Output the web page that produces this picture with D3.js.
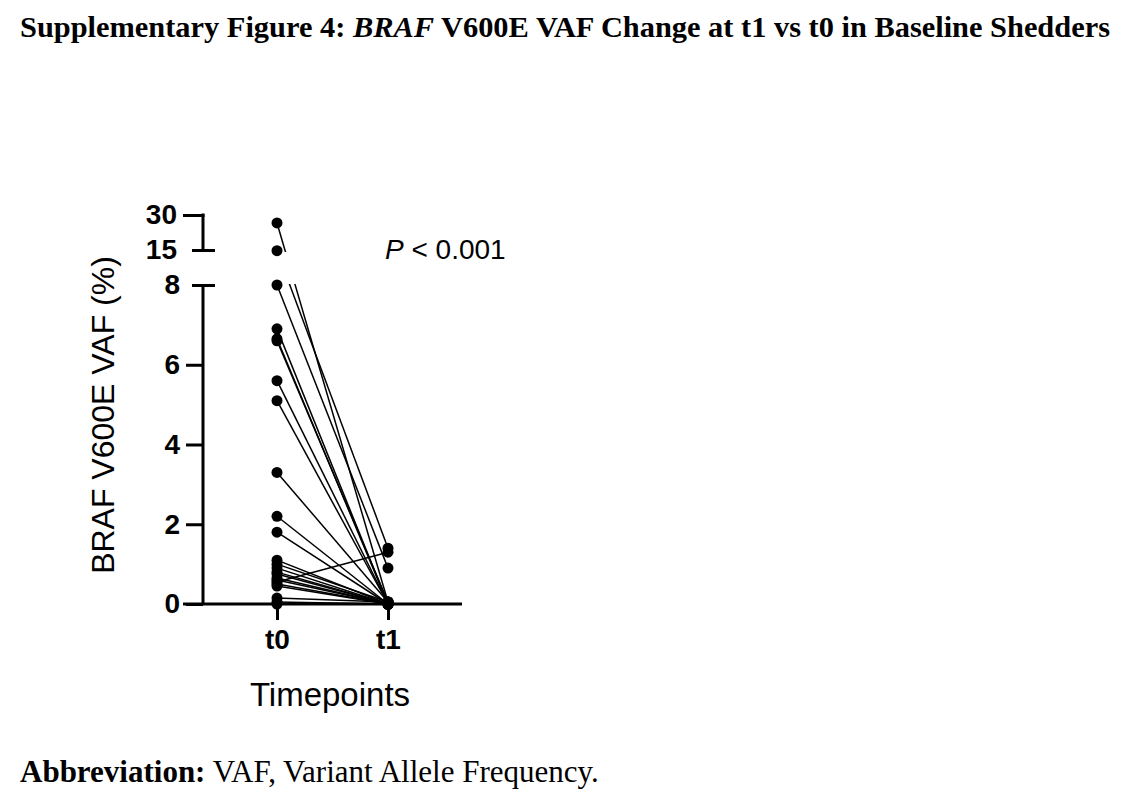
<!DOCTYPE html>
<html>
<head>
<meta charset="utf-8">
<script src="https://cdn.jsdelivr.net/npm/d3@7"></script>
<style>
  body { margin: 0; background: #fff; }
  svg { display: block; }
</style>
</head>
<body>
<svg id="chart"></svg>
<script>
// paired VAF values (%) per patient, t0 -> t1
const timepoints = ["t0", "t1"];
const vafT0 = [26.6, 14.7, 8.0, 6.9, 6.65, 6.6, 5.6, 5.1, 3.3, 2.2, 1.8,
               1.1, 1.0, 0.9, 0.8, 0.75, 0.65, 0.6, 0.55, 0.5, 0.45, 0.15, 0.05, 0.0];
const vafT1 = [0.05, 1.4, 0.9, 0.0, 0.0, 0.05, 0.0, 0.0, 0.05, 0.0, 0.0,
               0.0, 0.05, 0.0, 0.0, 0.0, 0.0, 0.0, 1.3, 0.0, 0.0, 0.05, 0.0, 0.0];
const lowTicks = [0, 2, 4, 6, 8];
const highTicks = [15, 30];

const W = 1121, H = 797;
const svg = d3.select("#chart").attr("width", W).attr("height", H);

// broken y axis: two segments
const yLow = d3.scaleLinear().domain([0, 8]).range([604, 285]);
const yHigh = d3.scaleLinear().domain([15, 30]).range([250, 215]);
const y = v => v <= 8 ? yLow(v) : yHigh(v);

const x = d3.scalePoint().domain(timepoints).range([277, 388]);
const axisX = 203;

const data = vafT0.map((v, i) => ({ t0: v, t1: vafT1[i] }));

// title
const title = svg.append("text")
  .attr("x", 20).attr("y", 37)
  .style("font-family", "'Liberation Serif', 'Times New Roman', serif")
  .style("font-size", "30.4px").style("font-weight", "bold");
title.append("tspan").text("Supplementary Figure 4: ");
title.append("tspan").style("font-style", "italic").text("BRAF");
title.append("tspan").text(" V600E VAF Change at t1 vs t0 in Baseline Shedders");

// footer
const foot = svg.append("text")
  .attr("x", 20).attr("y", 782)
  .style("font-family", "'Liberation Serif', 'Times New Roman', serif")
  .style("font-size", "31px");
foot.append("tspan").style("font-weight", "bold").text("Abbreviation:");
foot.append("tspan").text(" VAF, Variant Allele Frequency.");

// clip regions for each axis segment
const defs = svg.append("defs");
defs.append("clipPath").attr("id", "clipHigh")
  .append("rect").attr("x", 0).attr("y", 0).attr("width", W).attr("height", yHigh(15) + 2);
defs.append("clipPath").attr("id", "clipLow")
  .append("rect").attr("x", 0).attr("y", yLow(8) - 1).attr("width", W).attr("height", H);

const chart = svg.append("g");
const font = "'Liberation Sans', Arial, sans-serif";

// paired lines
["clipHigh", "clipLow"].forEach(id => {
  chart.append("g").attr("clip-path", `url(#${id})`)
    .selectAll("line").data(data).join("line")
    .attr("x1", x("t0")).attr("y1", d => y(d.t0))
    .attr("x2", x("t1")).attr("y2", d => y(d.t1))
    .attr("stroke", "#000").attr("stroke-width", 1.5);
});

// points
const pts = [];
data.forEach(d => { pts.push({ t: "t0", v: d.t0 }); pts.push({ t: "t1", v: d.t1 }); });
chart.append("g").selectAll("circle").data(pts).join("circle")
  .attr("cx", d => x(d.t)).attr("cy", d => y(d.v))
  .attr("r", 5.5).attr("fill", "#000");

// y axis, lower segment
const gLow = chart.append("g").attr("transform", `translate(${axisX},0)`)
  .call(d3.axisLeft(yLow).tickValues(lowTicks).tickSize(17).tickPadding(6));
// y axis, upper segment
const gHigh = chart.append("g").attr("transform", `translate(${axisX},0)`)
  .call(d3.axisLeft(yHigh).tickValues(highTicks).tickSize(20).tickPadding(6));

[gLow, gHigh].forEach(g => {
  g.select(".domain").remove();
  g.selectAll(".tick line").attr("stroke-width", 3);
  g.selectAll(".tick text")
    .style("font-family", font).style("font-size", "28px").style("font-weight", "bold")
    .attr("fill", "#000");
});
// axis lines
chart.append("line").attr("x1", axisX).attr("x2", axisX)
  .attr("y1", yLow(0)).attr("y2", yLow(8)).attr("stroke", "#000").attr("stroke-width", 3);
chart.append("line").attr("x1", axisX).attr("x2", axisX)
  .attr("y1", yHigh(15)).attr("y2", yHigh(30) - 1.5).attr("stroke", "#000").attr("stroke-width", 3);
// break caps (centered on axis)
gLow.select(".tick:last-of-type line").attr("x1", 12).attr("x2", -11);
gHigh.select(".tick:first-of-type line").attr("x1", 12).attr("x2", -11);
gHigh.select(".tick:last-of-type line").attr("x1", 1.5);

// x axis
chart.append("line").attr("x1", 183).attr("x2", 462)
  .attr("y1", yLow(0)).attr("y2", yLow(0)).attr("stroke", "#000").attr("stroke-width", 3);
const gx = chart.append("g").attr("transform", `translate(0,${yLow(0)})`)
  .call(d3.axisBottom(x).tickSize(16).tickPadding(9));
gx.select(".domain").remove();
gx.selectAll(".tick line").attr("stroke-width", 3);
gx.selectAll(".tick text")
  .style("font-family", font).style("font-size", "28px").style("font-weight", "bold")
  .attr("fill", "#000");

// axis titles
chart.append("text")
  .attr("transform", `translate(114,${(255 + 575) / 2}) rotate(-90)`)
  .attr("text-anchor", "middle")
  .style("font-family", font).style("font-size", "32px")
  .text("BRAF V600E VAF (%)");
chart.append("text")
  .attr("x", 330).attr("y", 706).attr("text-anchor", "middle")
  .style("font-family", font).style("font-size", "33px")
  .text("Timepoints");

// p-value
const p = chart.append("text").attr("x", 385).attr("y", 259)
  .style("font-family", font).style("font-size", "28px");
p.append("tspan").style("font-style", "italic").text("P");
p.append("tspan").text(" < 0.001");
</script>
</body>
</html>
